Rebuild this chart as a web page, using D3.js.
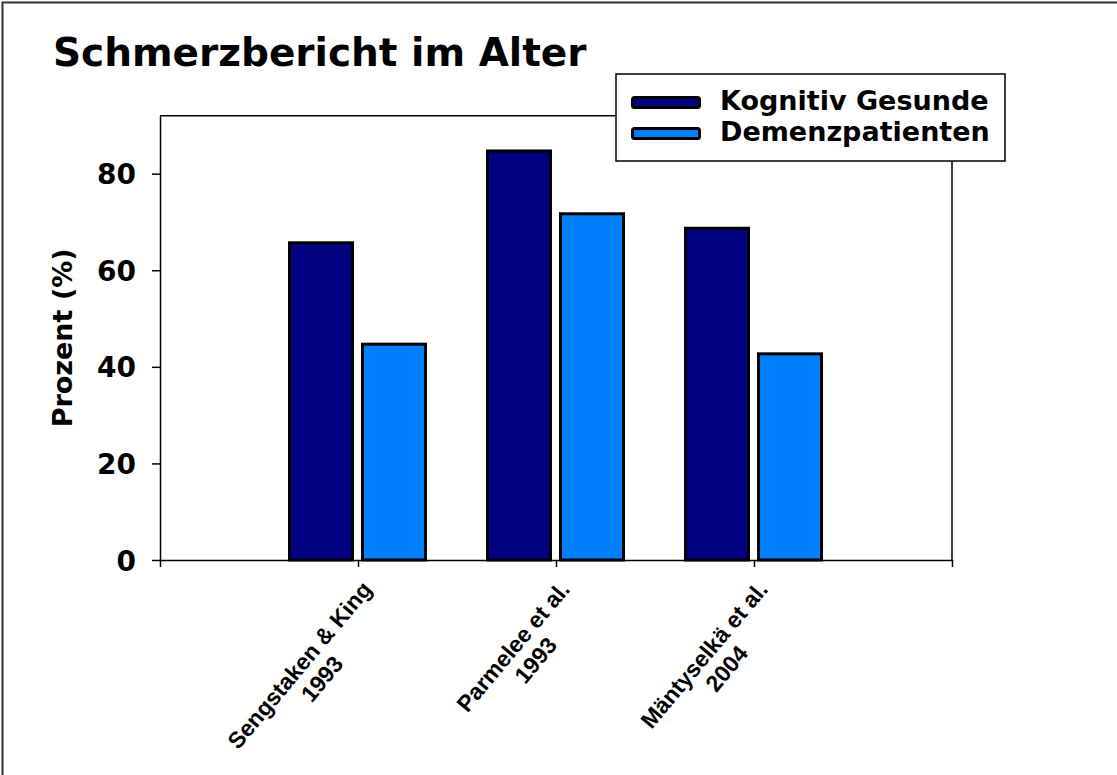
<!DOCTYPE html>
<html>
<head>
<meta charset="utf-8">
<script src="https://cdn.jsdelivr.net/npm/d3@7"></script>
<style>
  html, body { margin: 0; padding: 0; background: #fff; }
  svg { display: block; }
</style>
</head>
<body>
<svg id="chart" width="1117" height="775"></svg>
<script>
// ---- data ----
const title = "Schmerzbericht im Alter";
const yAxisTitle = "Prozent (%)";
const categories = [
  ["Sengstaken & King", "1993"],
  ["Parmelee et al.", "1993"],
  ["Mäntyselkä et al.", "2004"]
];
const seriesNames = ["Kognitiv Gesunde", "Demenzpatienten"];
const seriesColors = ["#000080", "#0080FF"];
const gesundeValues = [66, 85, 69];
const demenzValues = [45, 72, 43];
const yTicks = [0, 20, 40, 60, 80];
const yMax = 92;

// ---- layout ----
const svg = d3.select("#chart");
const W = 1117, H = 775;
const plot = { left: 160, right: 952, top: 115.7, bottom: 560 };
const verdana = "'DejaVu Sans', Verdana, sans-serif";
const arial = "'Liberation Sans', Arial, sans-serif";

svg.append("rect").attr("width", W).attr("height", H).attr("fill", "#fff");
// outer frame (only top/left visible)
svg.append("rect").attr("x", 2.5).attr("y", 2.5).attr("width", W + 20).attr("height", H + 20)
  .attr("fill", "none").attr("stroke", "#333").attr("stroke-width", 2);

svg.append("text").attr("x", 53).attr("y", 66)
  .attr("font-family", verdana).attr("font-weight", "bold").attr("font-size", 39)
  .attr("fill", "#000").text(title);

const keys = categories.map(c => c.join(" "));
const x = d3.scalePoint().domain(keys).range([plot.left, plot.right]).padding(1);
const xs = d3.scaleBand().domain(seriesNames).range([-70, 69]).paddingInner(0.096);
const y = d3.scaleLinear().domain([0, yMax]).range([plot.bottom, plot.top]);

// plot frame top/right
svg.append("path")
  .attr("d", `M${plot.left},${plot.top}H${plot.right}V${plot.bottom}`)
  .attr("fill", "none").attr("stroke", "#000").attr("stroke-width", 1.5);

// bars
const series = [gesundeValues, demenzValues];
const sw = 3;
series.forEach((vals, si) => {
  svg.append("g").selectAll("rect").data(vals).join("rect")
    .attr("x", (d, i) => x(keys[i]) + xs(seriesNames[si]) + sw / 2)
    .attr("width", xs.bandwidth() - sw)
    .attr("y", d => y(d) + sw / 2)
    .attr("height", d => y(0) - y(d) - sw / 2)
    .attr("fill", seriesColors[si])
    .attr("stroke", "#000").attr("stroke-width", sw);
});

// y axis
const yAxis = svg.append("g").attr("transform", `translate(${plot.left},0)`)
  .call(d3.axisLeft(y).tickValues(yTicks).tickSize(8).tickSizeOuter(0).tickPadding(16));
yAxis.selectAll("path, line").attr("stroke", "#000").attr("stroke-width", 1.5);
yAxis.selectAll("text").attr("font-family", verdana).attr("font-weight", "bold")
  .attr("font-size", 28).attr("fill", "#000").attr("dy", "0.36em");

// x axis
const xAxis = svg.append("g").attr("transform", `translate(0,${plot.bottom})`)
  .call(d3.axisBottom(x).tickSize(7).tickSizeOuter(7).tickFormat(""));
xAxis.selectAll("path, line").attr("stroke", "#000").attr("stroke-width", 1.5);

// x labels (rotated, two lines centered)
const angle = -50;
categories.forEach((lines, i) => {
  const g = svg.append("g")
    .attr("transform", `translate(${x(keys[i]) + 15},${plot.bottom + 30}) rotate(${angle})`);
  const t = g.append("text").attr("font-family", arial).attr("font-weight", "bold")
    .attr("font-size", 23).attr("fill", "#000").attr("text-anchor", "middle");
  const t1 = t.append("tspan").attr("x", 0).attr("y", 0).text(lines[0]);
  const t2 = t.append("tspan").attr("x", 0).attr("y", 26).text(lines[1]);
  const w = Math.max(t1.node().getComputedTextLength(), t2.node().getComputedTextLength());
  t1.attr("x", -w / 2); t2.attr("x", -w / 2 + 4);
});

// y axis title
svg.append("text")
  .attr("transform", `translate(72,${(plot.top + plot.bottom) / 2}) rotate(-90)`)
  .attr("text-anchor", "middle")
  .attr("font-family", verdana).attr("font-weight", "bold").attr("font-size", 27)
  .attr("fill", "#000").text(yAxisTitle);

// legend
const lg = svg.append("g");
lg.append("rect").attr("x", 616).attr("y", 74).attr("width", 389).attr("height", 87)
  .attr("fill", "#fff").attr("stroke", "#000").attr("stroke-width", 1.5);
seriesNames.forEach((name, i) => {
  const yy = 96 + i * 31;
  lg.append("rect").attr("x", 632.5).attr("y", yy + 1.5).attr("width", 67).attr("height", 10)
    .attr("rx", 2).attr("fill", seriesColors[i]).attr("stroke", "#000").attr("stroke-width", 3);
  lg.append("text").attr("x", 720).attr("y", yy + 14)
    .attr("font-family", verdana).attr("font-weight", "bold").attr("font-size", 27)
    .attr("fill", "#000").text(name);
});
</script>
</body>
</html>
